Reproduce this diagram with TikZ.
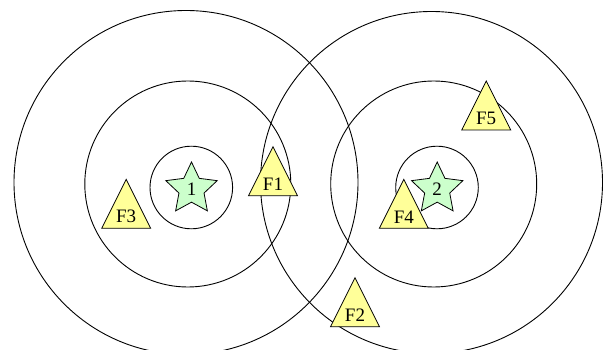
\documentclass[tikz,border=0pt]{standalone}
\usepackage{fontspec}
\setmainfont{Liberation Serif}
\usepackage{xcolor}
\usepackage{tikz}
\usetikzlibrary{shapes.geometric, calc}

\definecolor{sitegreen}{RGB}{204,255,204}
\definecolor{facyellow}{RGB}{255,255,153}

\begin{document}
\begin{tikzpicture}[
  x=1pt, y=-1pt,
  ring/.style={draw, circle, line width=0.9pt, inner sep=0pt, minimum size=#1},
  site/.style={draw, star, star points=5, star point ratio=2.05, minimum size=54pt, inner sep=0pt, line width=0.8pt, fill=sitegreen, font=\fontsize{19}{21}\selectfont},
  facility/.style={draw, line width=0.8pt, fill=facyellow, line join=miter},
  flabel/.style={inner sep=0pt, font=\fontsize{19}{21}\selectfont}
]

\useasboundingbox (0,0) rectangle (603,350);
\clip (0,0) rectangle (603,350);

% ── Rings round site 1 ──
\node[ring=344pt] (outerA) at (186,182.5) {};
\node[ring=206pt] (midA) at (187.8,184) {};
\node[ring=82.6pt] (innerA) at (191.3,187.5) {};

% ── Rings round site 2 ──
\node[ring=342pt] (outerB) at (431.5,182.5) {};
\node[ring=206pt] (midB) at (433.7,184) {};
\node[ring=82.6pt] (innerB) at (437,187.5) {};

% ── Sites ──
\node[site] (siteA) at (191.5,189) {1};
\node[site] (siteB) at (437.2,189) {2};

% ── Facilities (base centre, label) ──
\foreach \fname/\fx/\fy in {F1/273/195.7, F2/355/326.7, F3/126.2/228.3, F4/403.8/228.3, F5/486.2/130} {
  \filldraw[facility] (\fx,\fy) ++(-24.5,0) -- ++(24.5,-49) -- ++(24.5,49) -- cycle;
  \node[flabel] (\fname) at (\fx,\fy-11.5) {\fname};
}

\end{tikzpicture}
\end{document}
